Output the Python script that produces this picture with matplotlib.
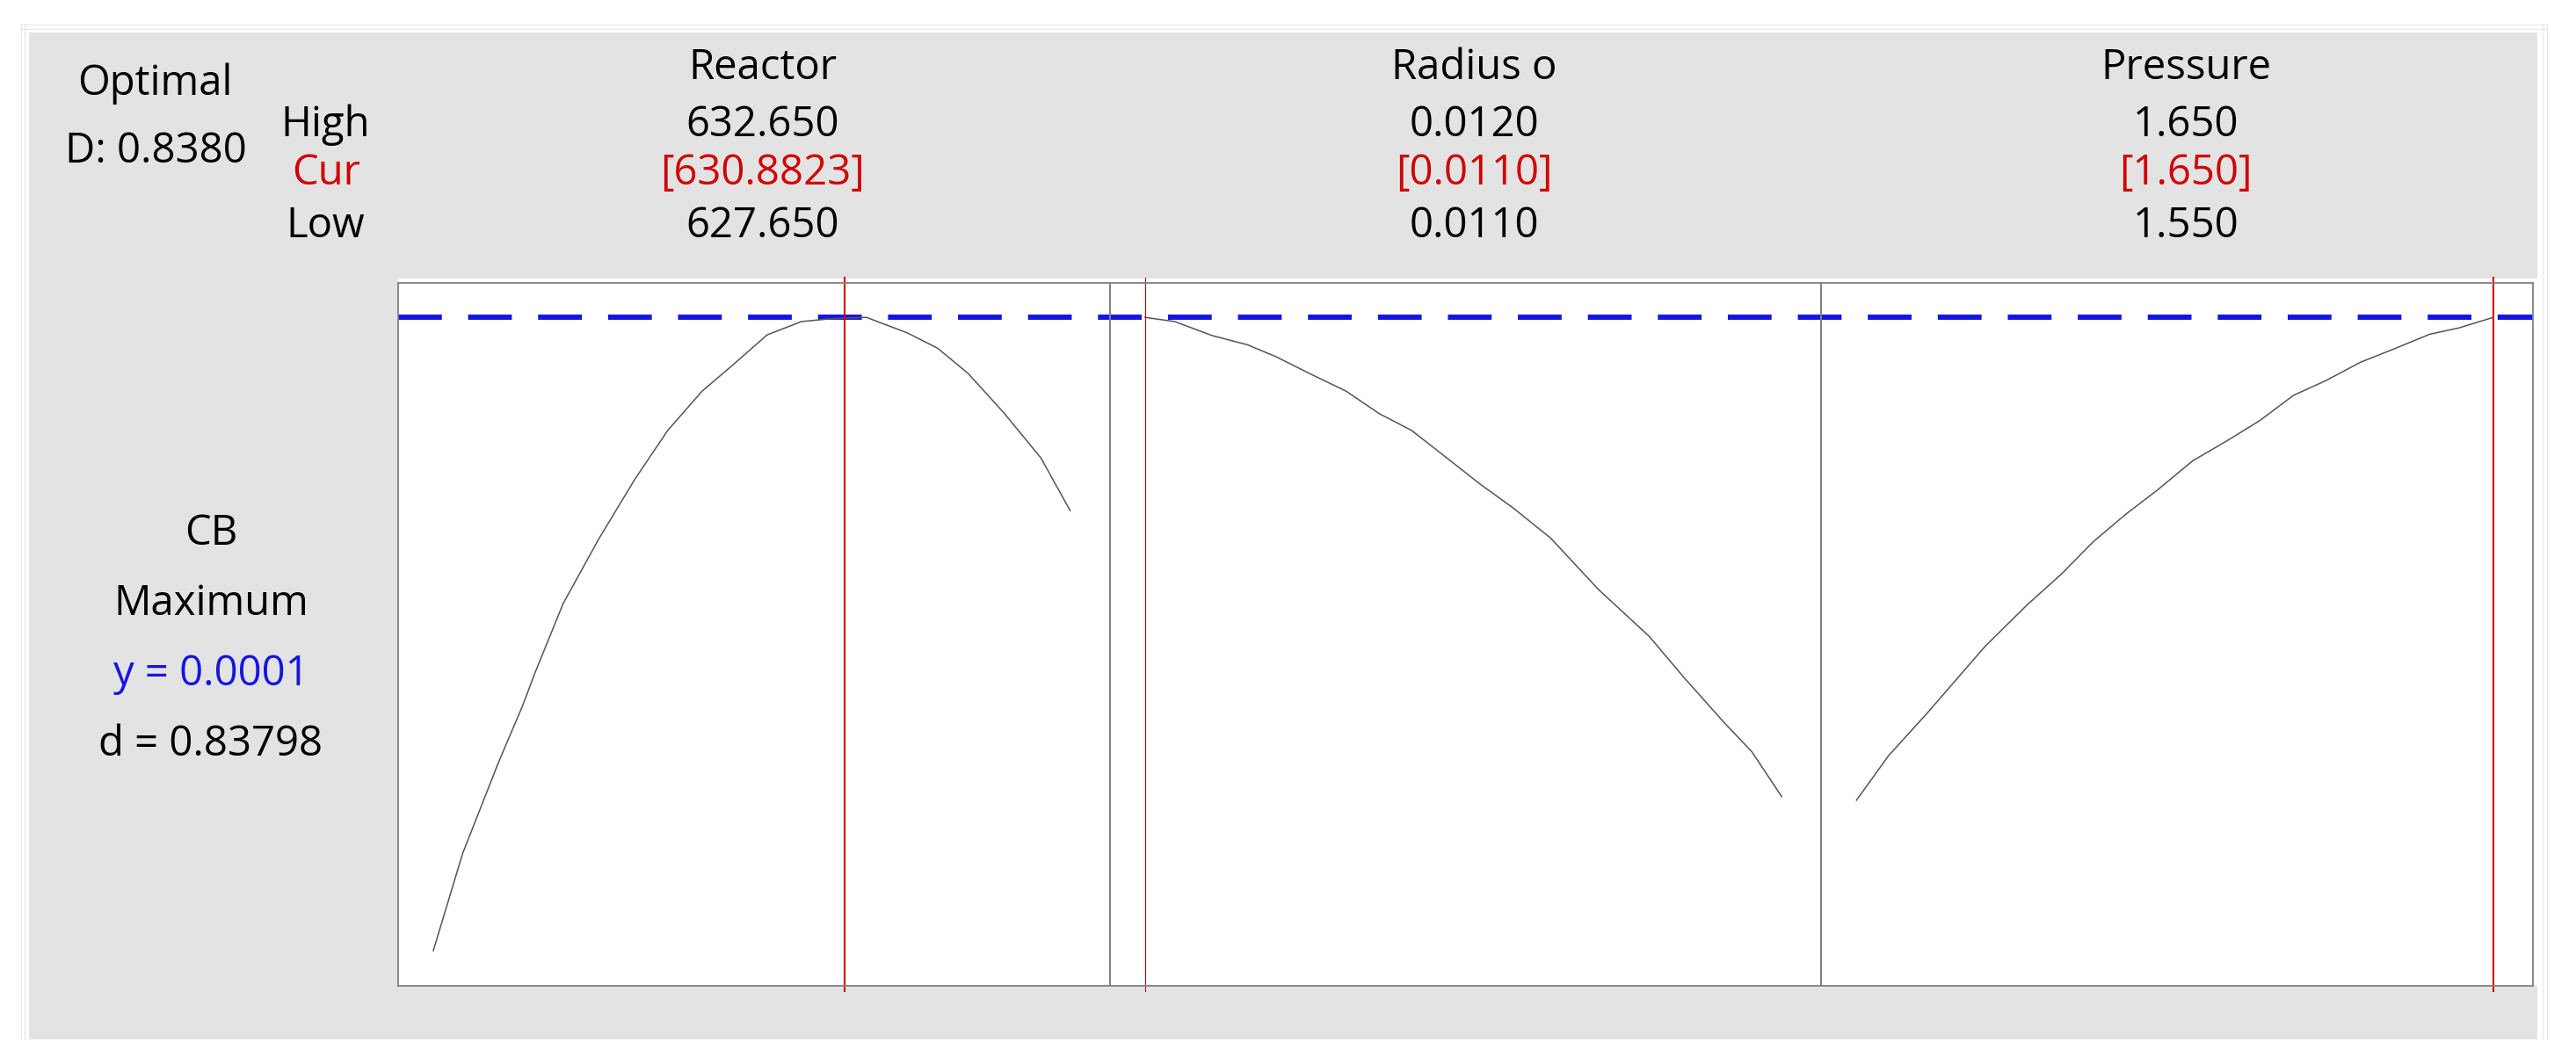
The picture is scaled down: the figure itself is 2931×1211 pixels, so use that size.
import matplotlib
matplotlib.use("Agg")
import matplotlib.pyplot as plt
from matplotlib.patches import Rectangle
from matplotlib.lines import Line2D

plt.rcParams['font.family'] = ['Open Sans', 'DejaVu Sans']


# ================================
# Data
# ================================
factors = ["Reactor", "Radius o", "Pressure"]
low_vals = [627.650, 0.0110, 1.550]
high_vals = [632.650, 0.0120, 1.650]
cur_vals = [630.8823, 0.0110, 1.650]
high_labels = ["632.650", "0.0120", "1.650"]
cur_labels = ["[630.8823]", "[0.0110]", "[1.650]"]
low_labels = ["627.650", "0.0110", "1.550"]

# predicted CB, relative to the panel height (no y scale is shown)
reactor_x = [627.65, 627.88, 628.16, 628.35, 628.45, 628.67, 628.95, 629.23, 629.49,
             629.76, 630.00, 630.27, 630.54, 630.77, 631.05, 631.37, 631.61, 631.85,
             632.13, 632.42, 632.65]
reactor_y = [0.050, 0.188, 0.317, 0.398, 0.446, 0.544, 0.636, 0.720, 0.790, 0.846,
             0.883, 0.926, 0.945, 0.949, 0.951, 0.929, 0.907, 0.871, 0.815, 0.751, 0.676]

radius_x = [0.011000, 0.011047, 0.011106, 0.011161, 0.011206, 0.011261, 0.011316,
            0.011368, 0.011419, 0.011474, 0.011526, 0.011578, 0.011637, 0.011712,
            0.011792, 0.011847, 0.011910, 0.011953, 0.012000]
radius_y = [0.951, 0.945, 0.925, 0.912, 0.895, 0.870, 0.846, 0.814, 0.790, 0.751,
            0.714, 0.680, 0.637, 0.564, 0.497, 0.438, 0.374, 0.333, 0.269]

pressure_x = [1.5500, 1.5550, 1.5612, 1.5702, 1.5768, 1.5822, 1.5872, 1.5923, 1.5972,
              1.6028, 1.6081, 1.6133, 1.6186, 1.6237, 1.6291, 1.6341, 1.6400, 1.6446,
              1.6500]
pressure_y = [0.264, 0.327, 0.389, 0.483, 0.542, 0.586, 0.632, 0.671, 0.705, 0.747,
              0.775, 0.804, 0.840, 0.861, 0.887, 0.905, 0.927, 0.936, 0.951]

y_current = 0.951
optimal_d = "D: 0.8380"
response = ["CB", "Maximum", "y = 0.0001", "d = 0.83798"]

curves = [(reactor_x, reactor_y), (radius_x, radius_y), (pressure_x, pressure_y)]


# ================================
# Layout helpers (pixel -> figure fraction)
# ================================
W, H = 2931, 1211
DPI = 100


def fx(x):
    return x / W


def fy(y):
    return 1 - y / H


GRAY = "#e3e3e3"
RED = "#d00000"
BLUE = "#1515e0"
FS = 34

fig = plt.figure(figsize=(W / DPI, H / DPI), dpi=DPI)
fig.patch.set_facecolor("white")

# faint outer frame lines
for xv in (23.5, 28.5, 2892.5, 2897.5):
    fig.add_artist(Line2D([fx(xv), fx(xv)], [fy(27), fy(1183)], color="#e6e6e6", lw=0.8))
for yv in (27.5, 32.5):
    fig.add_artist(Line2D([fx(23), fx(2897)], [fy(yv), fy(yv)], color="#e6e6e6", lw=0.8))

# gray panel background and white plotting area
fig.add_artist(Rectangle((fx(33), fy(1183)), (2887 - 33) / W, (1183 - 37) / H,
                         facecolor=GRAY, edgecolor="none", zorder=0))
fig.add_artist(Rectangle((fx(453), fy(1122)), (2887 - 453) / W, (1122 - 317) / H,
                         facecolor="white", edgecolor="none", zorder=0))

ax_left, ax_right, ax_top, ax_bot = 453, 2882, 322, 1122
panel_w = (ax_right - ax_left) / 3

# overlay for the current-y dashed line (spans all panels)
ov = fig.add_axes([fx(ax_left), fy(ax_bot), (ax_right - ax_left) / W, (ax_bot - ax_top) / H])
ov.set_xlim(0, 1)
ov.set_ylim(0, 1)
ov.axis("off")
ov.set_zorder(1)
ov.axhline(y_current, color=BLUE, lw=4.3, dashes=(50 / 6, 30 / 6))

red_widths = [1.5, 0.8, 1.5]

for i in range(3):
    left = ax_left + i * panel_w
    ax = fig.add_axes([fx(left), fy(ax_bot), panel_w / W, (ax_bot - ax_top) / H])
    ax.set_zorder(2)
    ax.set_facecolor("none")
    lo, hi = low_vals[i], high_vals[i]
    r = hi - lo
    ax.set_xlim(lo - 0.0552 * r, hi + 0.0621 * r)
    ax.set_ylim(0, 1)
    ax.set_xticks([])
    ax.set_yticks([])
    for sp in ax.spines.values():
        sp.set_color("#808080")
        sp.set_linewidth(1.3)

    xs, ys = curves[i]
    ax.plot(xs, ys, color="#555555", lw=1.1)
    ax.axvline(cur_vals[i], ymin=-6 / 800, ymax=1 + 6 / 800, color=RED,
               lw=red_widths[i], clip_on=False)

    cx = fx(left + panel_w / 2 + 10)
    fig.text(cx, fy(90), factors[i], ha="center", va="baseline", fontsize=FS)
    fig.text(cx, fy(155), high_labels[i], ha="center", va="baseline", fontsize=FS)
    fig.text(cx, fy(210), cur_labels[i], ha="center", va="baseline", fontsize=FS, color=RED)
    fig.text(cx, fy(270), low_labels[i], ha="center", va="baseline", fontsize=FS)

# ================================
# Header labels on the left
# ================================
fig.text(fx(176), fy(108), "Optimal", ha="center", va="baseline", fontsize=FS)
fig.text(fx(177), fy(185), optimal_d, ha="center", va="baseline", fontsize=FS)
fig.text(fx(370), fy(155), "High", ha="center", va="baseline", fontsize=FS)
fig.text(fx(371), fy(210), "Cur", ha="center", va="baseline", fontsize=FS, color=RED)
fig.text(fx(370), fy(270), "Low", ha="center", va="baseline", fontsize=FS)

resp_y = [620, 700, 780, 860]
resp_colors = ["black", "black", BLUE, "black"]
for txt, yy, c in zip(response, resp_y, resp_colors):
    fig.text(fx(240), fy(yy), txt, ha="center", va="baseline", fontsize=FS, color=c)

fig.savefig("out.png", dpi=DPI)
